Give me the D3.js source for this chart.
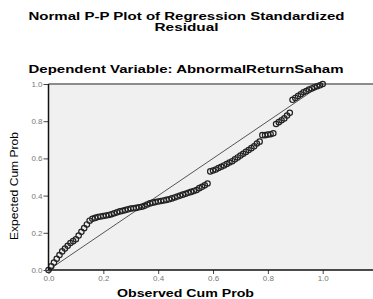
<!DOCTYPE html>
<html>
<head>
<meta charset="utf-8">
<script src="https://cdn.jsdelivr.net/npm/d3@7"></script>
<style>
  html, body { margin: 0; padding: 0; background: #fff; }
  svg { display: block; font-family: Arial, "Liberation Sans", sans-serif; }
</style>
</head>
<body>
<div id="chart"></div>
<script>
// observed cumulative probability (x) and expected cumulative probability (y)
const observed = [
  0.00, 0.01, 0.02, 0.03, 0.04, 0.05, 0.06, 0.07, 0.08, 0.09,
  0.10, 0.11, 0.12, 0.13, 0.14, 0.15, 0.16, 0.17, 0.18, 0.19,
  0.20, 0.21, 0.22, 0.23, 0.24, 0.25, 0.26, 0.27, 0.28, 0.29,
  0.30, 0.31, 0.32, 0.33, 0.34, 0.35, 0.36, 0.37, 0.38, 0.39,
  0.40, 0.41, 0.42, 0.43, 0.44, 0.45, 0.46, 0.47, 0.48, 0.49,
  0.50, 0.51, 0.52, 0.53, 0.54, 0.55, 0.56, 0.57, 0.58, 0.59,
  0.60, 0.61, 0.62, 0.63, 0.64, 0.65, 0.66, 0.67, 0.68, 0.69,
  0.70, 0.71, 0.72, 0.73, 0.74, 0.75, 0.76, 0.77, 0.78, 0.79,
  0.80, 0.81, 0.82, 0.83, 0.84, 0.85, 0.86, 0.87, 0.88, 0.89,
  0.90, 0.91, 0.92, 0.93, 0.94, 0.95, 0.96, 0.97, 0.98, 0.99, 1.00
];
const expected = [
  0.000, 0.020, 0.040, 0.060, 0.080, 0.100, 0.115, 0.130, 0.145, 0.155,
  0.165, 0.185, 0.205, 0.225, 0.245, 0.265, 0.275, 0.280, 0.285, 0.288,
  0.290, 0.293, 0.296, 0.300, 0.305, 0.310, 0.315, 0.318, 0.322, 0.326,
  0.330, 0.332, 0.334, 0.337, 0.340, 0.345, 0.352, 0.358, 0.362, 0.365,
  0.368, 0.371, 0.374, 0.377, 0.380, 0.385, 0.390, 0.395, 0.400, 0.405,
  0.410, 0.415, 0.420, 0.425, 0.430, 0.440, 0.447, 0.455, 0.465, 0.530,
  0.535, 0.540, 0.548, 0.555, 0.562, 0.570, 0.578, 0.585, 0.595, 0.605,
  0.615, 0.625, 0.635, 0.645, 0.655, 0.665, 0.680, 0.690, 0.725, 0.725,
  0.728, 0.730, 0.735, 0.785, 0.795, 0.805, 0.815, 0.830, 0.845, 0.915,
  0.925, 0.935, 0.945, 0.955, 0.962, 0.970, 0.976, 0.982, 0.988, 0.993, 1.000
];
const xTicks = [0, 0.2, 0.4, 0.6, 0.8, 1.0];
const yTicks = [0, 0.2, 0.4, 0.6, 0.8, 1.0];

(function () {
    const width = 373;
    const height = 299;
    const left = 48.5, top = 84, bottom = 270;

    const svg = d3.select('#chart').append('svg')
        .attr('width', width)
        .attr('height', height);

    const xScale = d3.scaleLinear().domain([0, 1]).range([left, 322.7]);
    const yScale = d3.scaleLinear().domain([0, 1]).range([bottom, top]);

    // Titles
    svg.append('text')
        .attr('x', 186.5).attr('y', 20)
        .attr('text-anchor', 'middle')
        .attr('font-size', 10).attr('font-weight', 'bold')
        .attr('textLength', 316).attr('lengthAdjust', 'spacingAndGlyphs')
        .text('Normal P-P Plot of Regression Standardized');
    svg.append('text')
        .attr('x', 186.5).attr('y', 31)
        .attr('text-anchor', 'middle')
        .attr('font-size', 10).attr('font-weight', 'bold')
        .attr('textLength', 64).attr('lengthAdjust', 'spacingAndGlyphs')
        .text('Residual');
    svg.append('text')
        .attr('x', 186).attr('y', 73)
        .attr('text-anchor', 'middle')
        .attr('font-size', 11).attr('font-weight', 'bold')
        .attr('textLength', 315).attr('lengthAdjust', 'spacingAndGlyphs')
        .text('Dependent Variable: AbnormalReturnSaham');

    // Plot background
    svg.append('rect')
        .attr('x', left).attr('y', top)
        .attr('width', width - left).attr('height', bottom - top)
        .attr('fill', '#f0f0f0');

    // top frame
    svg.append('line')
        .attr('x1', left).attr('x2', width)
        .attr('y1', top).attr('y2', top)
        .attr('stroke', '#8c8c8c').attr('stroke-width', 2);

    // Diagonal reference line
    svg.append('line')
        .attr('x1', xScale(0)).attr('y1', yScale(0))
        .attr('x2', xScale(1)).attr('y2', yScale(1))
        .attr('stroke', '#555').attr('stroke-width', 1);

    // Points
    const pts = observed.map((o, i) => ({ x: o, y: expected[i] }));
    svg.append('g').selectAll('circle')
        .data(pts)
        .enter().append('circle')
        .attr('cx', d => xScale(d.x))
        .attr('cy', d => yScale(d.y))
        .attr('r', 2.7)
        .attr('fill', 'none')
        .attr('stroke', '#222')
        .attr('stroke-width', 1.2);

    // Axes
    const xAxis = d3.axisBottom(xScale).tickValues(xTicks).tickSize(4).tickFormat(d3.format('.1f'));
    const yAxis = d3.axisLeft(yScale).tickValues(yTicks).tickSize(5).tickFormat(d3.format('.1f'));

    const gx = svg.append('g').attr('transform', `translate(0,${bottom})`).call(xAxis);
    gx.select('.domain').remove();
    gx.append('line').attr('x1', left).attr('x2', width).attr('stroke', '#111').attr('stroke-width', 1.5);
    gx.selectAll('.tick line').attr('stroke', '#444');
    gx.selectAll('.tick text').attr('fill', '#777').attr('font-size', 8).attr('dy', '0.6em').attr('y', 6);

    const gy = svg.append('g').attr('transform', `translate(${left},0)`).call(yAxis);
    gy.select('.domain').remove();
    gy.append('line').attr('y1', top).attr('y2', bottom).attr('stroke', '#111').attr('stroke-width', 1.5);
    gy.selectAll('.tick line').attr('stroke', '#444');
    gy.selectAll('.tick text').attr('fill', '#777').attr('font-size', 8).attr('x', -6);

    // Axis titles
    svg.append('text')
        .attr('x', 185.5).attr('y', 297)
        .attr('text-anchor', 'middle')
        .attr('font-size', 10).attr('font-weight', 'bold')
        .attr('textLength', 137).attr('lengthAdjust', 'spacingAndGlyphs')
        .text('Observed Cum Prob');
    svg.append('text')
        .attr('transform', 'translate(18,186) rotate(-90)')
        .attr('text-anchor', 'middle')
        .attr('font-size', 10)
        .attr('textLength', 108).attr('lengthAdjust', 'spacingAndGlyphs')
        .text('Expected Cum Prob');
})();
</script>
</body>
</html>
